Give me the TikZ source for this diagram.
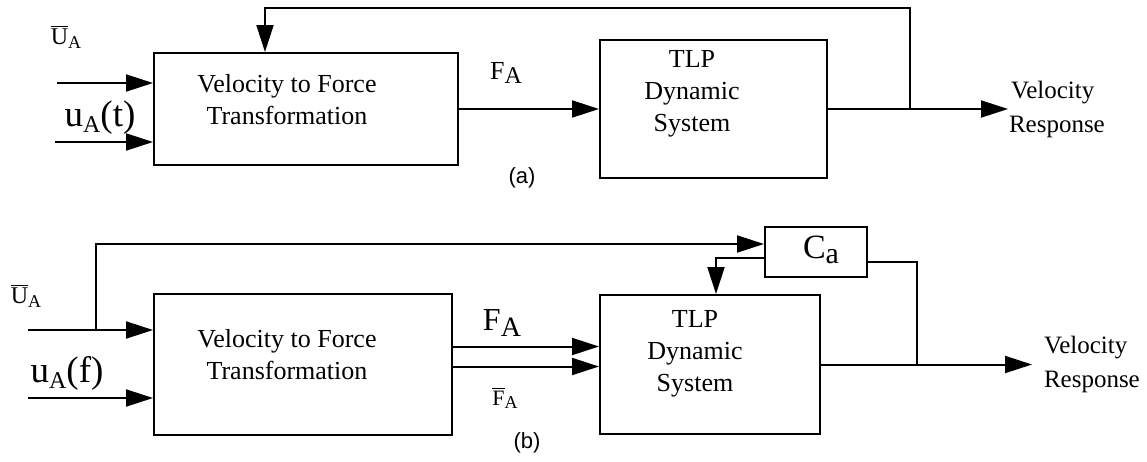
\documentclass[tikz,border=0pt]{standalone}
\usepackage{fontspec}
\setmainfont{Liberation Serif}
\newfontfamily\capfont{Liberation Sans}
\usetikzlibrary{arrows.meta}

% variable with a lowered index: size, index size, letter, index
\newcommand{\varidx}[4]{{\fontsize{#1}{#1}\selectfont #3\raisebox{-0.35ex}{\fontsize{#2}{#2}\selectfont #4}}}
\newcommand{\barvar}[4]{{\fontsize{#1}{#1}\selectfont$\overline{\hbox{#3}}$\raisebox{-0.35ex}{\fontsize{#2}{#2}\selectfont #4}}}

\tikzset{
  blk/.style={draw, line width=1pt, inner sep=0pt},
  blktxt/.style={align=center, inner sep=0pt, font=\fontsize{13}{16}\selectfont},
  outtxt/.style={align=left, anchor=west, inner sep=0pt, font=\fontsize{12.5}{17}\selectfont},
  lbl/.style={inner sep=0pt},
  figcap/.style={inner sep=0pt, font=\capfont\fontsize{11}{13}\selectfont},
  >={Triangle[length=13.5pt,width=8.5pt]}
}

\begin{document}
\begin{tikzpicture}[x=0.5pt,y=0.5pt,yscale=-1,line width=1pt]
\useasboundingbox (0,0) rectangle (1147,461);

%%%% (a)
%Shape: Rectangle
\node[blk, minimum width=152pt, minimum height=56pt] (vfa) at (306,109) {};
\node[blk, minimum width=113.5pt, minimum height=69pt] (tlpa) at (713.5,109) {};
% Text Node
\node[blktxt] (vfa_t) at (287,100) {Velocity to Force\\Transformation};
\node[blktxt] (tlpa_t) at (692,94) {TLP\\Dynamic\\System};

\coordinate (ina1) at (57,83);
\coordinate (ina2) at (55,142);
\coordinate (outa) at (1008,109);
\coordinate (fba) at (910,109);
\coordinate (fbtop) at (265,8);

%Straight Lines
\draw[->] (ina1) -- (ina1 -| vfa.west);
\draw[->] (ina2) -- (ina2 -| vfa.west);
\draw[->] (vfa.east) -- (tlpa.west);
\draw[->] (tlpa.east) -- (outa);
\draw[->] (fba) |- (fbtop) -- (fbtop |- vfa.north);

% Text Node
\node[lbl] (ua_bar) at (66,37) {\barvar{12}{9}{U}{A}};
\node[lbl] (ua_t) at (100,118) {\varidx{18.5}{12}{u}{A}{\fontsize{18.5}{18.5}\selectfont(t)}};
\node[lbl] (fa) at (506,73) {\varidx{13}{12}{F}{A}};
\node[outtxt] (vra) at (outa) {\hspace{1pt}Velocity\\Response};
\node[figcap] (capa) at (522,178) {(a)};

%%%% (b)
%Shape: Rectangle
\node[blk, minimum width=149pt, minimum height=70.5pt] (vfb) at (303,364.5) {};
\node[blk, minimum width=110pt, minimum height=69.5pt] (tlpb) at (710,364.5) {};
\node[blk, minimum width=51pt, minimum height=25pt] (cab) at (816,252) {};
% Text Node
\node[blktxt] (vfb_t) at (287,355) {Velocity to Force\\Transformation};
\node[blktxt] (tlpb_t) at (695,354) {TLP\\Dynamic\\System};
\node[lbl] (cab_t) at (821,250) {\varidx{17}{15}{C}{a}};

\coordinate (inb1) at (28,330);
\coordinate (inb2) at (28,398);
\coordinate (brb) at (96,330);
\coordinate (jb) at (917,364.5);
\coordinate (outb) at (1032,364.5);

%Straight Lines (yshift runs downwards here, as y is flipped)
\draw[->] (inb1) -- (inb1 -| vfb.west);
\draw[->] (inb2) -- (inb2 -| vfb.west);
\draw[->] (brb) |- ([yshift=-4pt]cab.west);
\draw[->] ([yshift=3pt]cab.west) -| ([xshift=3pt]tlpb.north);
\draw ([yshift=5pt]cab.east) -| (jb);
\draw[->] ([yshift=-9pt]vfb.east) -- ([yshift=-9pt]vfb.east -| tlpb.west);
\draw[->] ([yshift=1pt]vfb.east) -- ([yshift=1pt]vfb.east -| tlpb.west);
\draw[->] (tlpb.east) -- (outb);

% Text Node
\node[lbl] (ub_bar) at (26,296) {\barvar{12}{9}{U}{A}};
\node[lbl] (ub_f) at (67,373) {\varidx{18.5}{12}{u}{A}{\fontsize{18.5}{18.5}\selectfont(f)}};
\node[lbl] (fb) at (502,323) {\varidx{16}{14}{F}{A}};
\node[lbl] (fb_bar) at (505,398) {\barvar{11}{9}{F}{A}};
\node[outtxt] (vrb) at ([xshift=5.5pt]outb) {Velocity\\Response};
\node[figcap] (capb) at (527,443) {(b)};

\end{tikzpicture}
\end{document}
